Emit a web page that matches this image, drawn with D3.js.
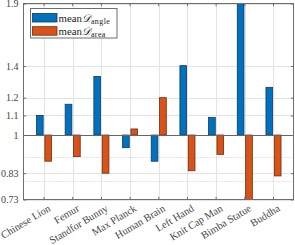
<!DOCTYPE html>
<html lang="en">
<meta charset="UTF-8">
<style>
    body { margin: 0; background: #fff; }
    .tick text { font-family: "Liberation Serif", "Times New Roman", serif; }
</style>
<body>
<svg width="295" height="245" id="chart"></svg>
<script src="https://d3js.org/d3.v7.min.js"></script>
<script>
// data
const categories = ["Chinese Lion", "Femur", "Standfor Bunny", "Max Planck", "Human Brain",
                    "Left Hand", "Knit Cap Man", "Bimba Statue", "Buddha"];
const meanAngle = [1.10, 1.162, 1.331, 0.94, 0.88, 1.403, 1.09, 1.95, 1.262];
const meanArea  = [0.88, 0.90, 0.83, 1.03, 1.20, 0.84, 0.91, 0.70, 0.819];
const yTicks = [0.73, 0.83, 1, 1.1, 1.2, 1.4, 1.9];
const yMinor = [0.8, 0.9];
const seriesNames = ["angle", "area"];
const seriesColors = ["#0072BD", "#D95319"];
const seriesStroke = ["#14385a", "#6b2a0e"];

const svg = d3.select('#chart');
const L = 23.5, R = 294, T = 3.5, B = 199.5;
const serif = '"Liberation Serif", "Times New Roman", serif';

const x = d3.scaleBand().domain(categories).range([L, R]).paddingInner(0).paddingOuter(0.215);
const y = d3.scaleLog().domain([0.73, 1.9]).range([B, T]);
const cx = c => x(c) + x.bandwidth() / 2;
const step = x.step();

svg.append('defs').append('clipPath').attr('id', 'plotclip')
    .append('rect').attr('x', L).attr('y', T).attr('width', R - L).attr('height', B - T);

// grid
const grid = svg.append('g');
grid.selectAll('.vg').data(categories).enter().append('line')
    .attr('x1', d => Math.round(cx(d)) + 0.5).attr('x2', d => Math.round(cx(d)) + 0.5)
    .attr('y1', T).attr('y2', B)
    .attr('stroke', '#e3e3e3').attr('stroke-width', 1);
grid.selectAll('.hg').data(yTicks).enter().append('line')
    .attr('x1', L).attr('x2', R)
    .attr('y1', d => Math.round(y(d)) + 0.5).attr('y2', d => Math.round(y(d)) + 0.5)
    .attr('stroke', '#e3e3e3').attr('stroke-width', 1);
grid.selectAll('.mg').data(yMinor).enter().append('line')
    .attr('x1', L).attr('x2', R)
    .attr('y1', d => Math.round(y(d)) + 0.5).attr('y2', d => Math.round(y(d)) + 0.5)
    .attr('stroke', '#c8c8c8').attr('stroke-width', 1).attr('stroke-dasharray', '1,2');

// bars
const bars = svg.append('g').attr('clip-path', 'url(#plotclip)');
[meanAngle, meanArea].forEach((vals, s) => {
    const off = (s === 0 ? -0.146 : 0.146) * step;
    const w = 0.233 * step;
    bars.selectAll('.b' + s).data(vals).enter().append('rect')
        .attr('x', (d, i) => cx(categories[i]) + off - w / 2)
        .attr('width', w)
        .attr('y', d => Math.min(y(d), y(1)))
        .attr('height', d => Math.abs(y(d) - y(1)))
        .attr('fill', seriesColors[s])
        .attr('stroke', seriesStroke[s])
        .attr('stroke-width', 0.8);
});

// baseline at 1
svg.append('line')
    .attr('x1', L).attr('x2', R)
    .attr('y1', Math.round(y(1)) + 0.5).attr('y2', Math.round(y(1)) + 0.5)
    .attr('stroke', '#666').attr('stroke-width', 1);

// axes box
svg.append('rect').attr('x', L).attr('y', T).attr('width', R - L - 0.5).attr('height', B - T)
    .attr('fill', 'none').attr('stroke', '#6e6e6e').attr('stroke-width', 1);

// y axis with inward ticks
const yAxis = d3.axisLeft(y).tickValues(yTicks).tickFormat(d => String(d)).tickSizeInner(-2.7).tickSizeOuter(0).tickPadding(5);
const gy = svg.append('g').attr('transform', `translate(${L},0)`).call(yAxis);
gy.select('.domain').remove();
gy.selectAll('.tick line').attr('stroke', '#6e6e6e');
gy.selectAll('.tick text').attr('font-size', '10px').attr('fill', '#444').attr('font-family', serif);

const gyR = svg.append('g').attr('transform', `translate(${R - 0.5},0)`)
    .call(d3.axisRight(y).tickValues(yTicks).tickFormat('').tickSizeInner(-2.7).tickSizeOuter(0));
gyR.select('.domain').remove();
gyR.selectAll('.tick line').attr('stroke', '#6e6e6e');

// x axis
const gx = svg.append('g').attr('transform', `translate(0,${B})`)
    .call(d3.axisBottom(x).tickSizeInner(-2.7).tickSizeOuter(0).tickFormat(''));
gx.select('.domain').remove();
gx.selectAll('.tick line').attr('stroke', '#6e6e6e');
const gxT = svg.append('g').attr('transform', `translate(0,${T})`)
    .call(d3.axisTop(x).tickSizeInner(-2.7).tickSizeOuter(0).tickFormat(''));
gxT.select('.domain').remove();
gxT.selectAll('.tick line').attr('stroke', '#6e6e6e');

svg.append('g').selectAll('text').data(categories).enter().append('text')
    .attr('transform', d => `translate(${cx(d) + 3.5},${B + 4.5}) rotate(-31)`)
    .attr('text-anchor', 'end')
    .attr('dy', '0.7em')
    .attr('font-family', serif).attr('font-size', '10.4px').attr('fill', '#444')
    .text(d => d);

// legend
const lg = svg.append('g');
lg.append('rect').attr('x', 30.5).attr('y', 8.5).attr('width', 86.5).attr('height', 29.5)
    .attr('fill', '#fff').attr('stroke', '#6e6e6e').attr('stroke-width', 1);
seriesNames.forEach((n, i) => {
    const yy = 13.5 + i * 13.2;
    lg.append('rect').attr('x', 32.5).attr('y', yy).attr('width', 24.5).attr('height', 8.5)
        .attr('fill', seriesColors[i]).attr('stroke', seriesStroke[i]).attr('stroke-width', 0.8);
    const t = lg.append('text').attr('x', 58.5).attr('y', yy + 8)
        .attr('font-family', serif).attr('font-size', '10.8px').attr('fill', '#222');
    t.append('tspan').text('mean');
    t.append('tspan').attr('font-style', 'italic').text('\u{1D49F}');
    t.append('tspan').attr('font-size', '8px').attr('letter-spacing', '0.4').attr('dy', 2).text(n);
});
</script>
</body>
</html>
